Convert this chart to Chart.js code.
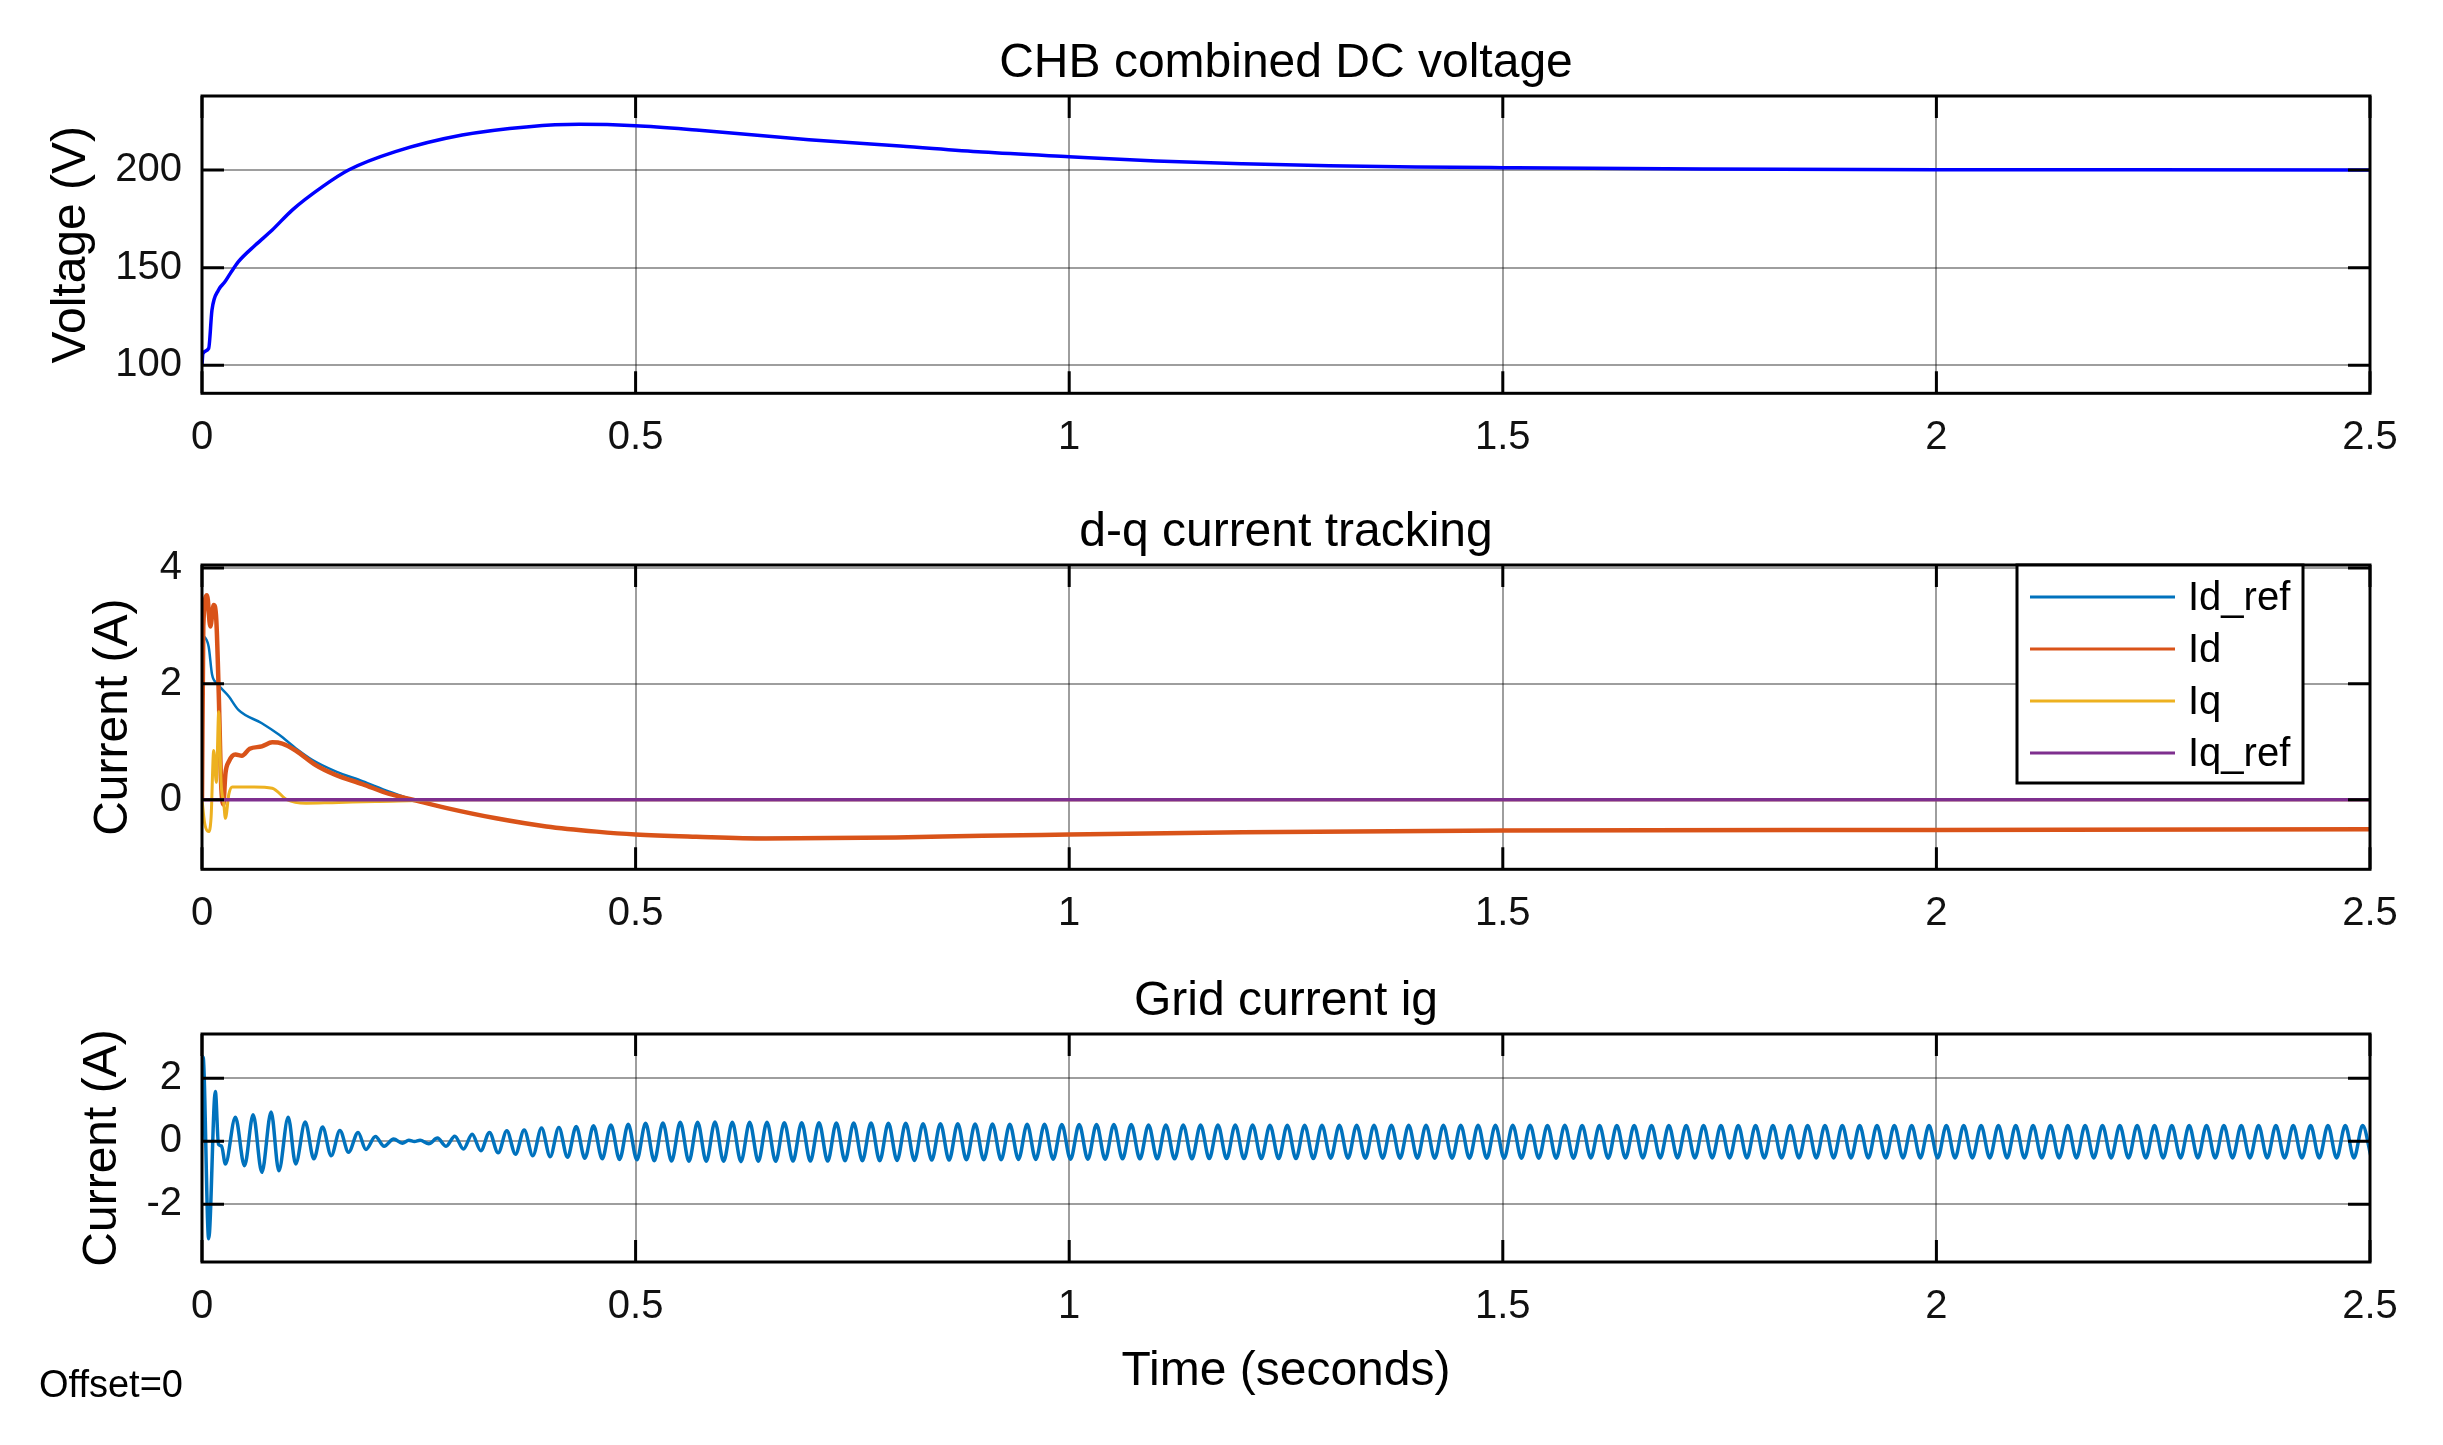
<!DOCTYPE html>
<html>
<head>
<meta charset="utf-8">
<script src="https://cdn.jsdelivr.net/npm/chart.js@4.4.1/dist/chart.umd.min.js"></script>
<style>
  html, body { margin: 0; padding: 0; background: #fff; width: 2443px; height: 1445px; overflow: hidden; }
  canvas { position: absolute; left: 0; }
</style>
</head>
<body>
<canvas id="c1" width="2443" height="469" style="top:0px"></canvas>
<canvas id="c2" width="2443" height="469" style="top:469px"></canvas>
<canvas id="c3" width="2443" height="507" style="top:938px"></canvas>
<script>
// Eje de tiempo común
const xTicks = [0, 0.5, 1, 1.5, 2, 2.5];
const xTickLabels = ['0', '0.5', '1', '1.5', '2', '2.5'];

// Subplot 1: tensión DC combinada
const vTime = [0, 0.001, 0.0077, 0.0115, 0.019, 0.026, 0.0327, 0.042, 0.0616, 0.081, 0.104, 0.139, 0.169, 0.223, 0.3, 0.377, 0.435, 0.5, 0.57, 0.7, 0.805, 0.9, 1.0, 1.1, 1.2, 1.3, 1.4, 1.5, 1.73, 2.0, 2.5];
const vDc = [100, 106, 108.7, 128.3, 138.6, 142.5, 147.1, 153.1, 161.6, 169.3, 179.5, 191.5, 200, 209.4, 217.9, 222.2, 223.4, 222.7, 220.5, 215.5, 212.3, 209.2, 206.8, 204.6, 203.2, 202.2, 201.6, 201.2, 200.5, 200.2, 200];
const vTicks = [100, 150, 200];

// Subplot 2: seguimiento de corrientes d-q
const idRefTime = [0, 0.0077, 0.0116, 0.0173, 0.031, 0.042, 0.069, 0.089, 0.108, 0.127, 0.154, 0.185, 0.216, 0.243, 0.281, 0.339, 0.397, 0.455, 0.5, 0.57, 0.65, 0.8, 0.9, 1.0, 1.2, 1.5, 2.0, 2.5];
const idRef = [2.86, 2.64, 2.16, 2.01, 1.78, 1.55, 1.32, 1.12, 0.89, 0.69, 0.49, 0.32, 0.14, 0.0, -0.14, -0.32, -0.46, -0.55, -0.60, -0.64, -0.66, -0.65, -0.62, -0.60, -0.56, -0.53, -0.52, -0.51];
const idTime = [0, 0.0015, 0.0058, 0.0096, 0.0135, 0.0165, 0.0193, 0.022, 0.0245, 0.027, 0.031, 0.0385, 0.046, 0.055, 0.069, 0.081, 0.0925, 0.108, 0.131, 0.154, 0.185, 0.216, 0.243, 0.281, 0.339, 0.397, 0.455, 0.5, 0.57, 0.65, 0.8, 0.9, 1.0, 1.2, 1.5, 2.0, 2.5];
const id = [0, 3.0, 3.53, 2.99, 3.36, 3.1, 1.84, 0.3, -0.08, 0.45, 0.66, 0.78, 0.76, 0.88, 0.92, 0.99, 0.97, 0.85, 0.6, 0.43, 0.27, 0.1, 0.0, -0.14, -0.32, -0.46, -0.55, -0.60, -0.64, -0.67, -0.65, -0.62, -0.60, -0.56, -0.53, -0.52, -0.51];
const iqTime = [0, 0.003, 0.0077, 0.0105, 0.0135, 0.0165, 0.0193, 0.022, 0.025, 0.027, 0.031, 0.035, 0.06, 0.081, 0.098, 0.12, 0.15, 0.2, 0.3, 2.5];
const iq = [0, -0.4, -0.55, -0.3, 0.85, 0.3, 1.52, 0.3, -0.05, -0.32, 0.1, 0.22, 0.22, 0.2, 0.0, -0.06, -0.05, -0.03, 0, 0];
const iqRefTime = [0, 2.5];
const iqRef = [0, 0];
const dqTicks = [0, 2, 4];

// Subplot 3: corriente de red ig (transitorio + extremos de cada semiciclo)
const igTransTime = [0, 0.0012, 0.0077, 0.0154, 0.019, 0.0225, 0.027, 0.0385, 0.049, 0.059, 0.069, 0.0797, 0.0886, 0.0994, 0.108, 0.119, 0.129, 0.139, 0.149, 0.159, 0.169, 0.18, 0.189, 0.2, 0.21, 0.221, 0.231, 0.2385, 0.245];
const igTrans = [0, 2.68, -3.1, 1.58, -0.1, -0.15, -0.72, 0.76, -0.78, 0.84, -0.99, 0.93, -0.94, 0.76, -0.72, 0.61, -0.56, 0.45, -0.46, 0.34, -0.35, 0.28, -0.26, 0.15, -0.16, 0.07, -0.06, 0.03, -0.01];
const igPeakStart = 0.2515;   // primer extremo tras el cambio de fase
const igHalfPeriod = 0.01;    // 50 Hz
const igPeaks = [
  0.03, -0.08, 0.10, -0.16, 0.16, -0.25, 0.22, -0.30, 0.28, -0.37,
  0.33, -0.41, 0.36, -0.46, 0.42, -0.49, 0.44, -0.51, 0.47, -0.54,
  0.49, -0.56, 0.52, -0.58, 0.54, -0.59, 0.57, -0.62, 0.58, -0.63,
  0.60, -0.64, 0.60, -0.64, 0.61, -0.64, 0.60, -0.65, 0.60, -0.64,
  0.60, -0.64, 0.59, -0.63, 0.59, -0.63, 0.59, -0.63, 0.58, -0.62,
  0.58, -0.62, 0.58, -0.62, 0.57, -0.61, 0.57, -0.61, 0.56, -0.60,
  0.56, -0.60, 0.56, -0.59, 0.55, -0.59, 0.55, -0.59, 0.54, -0.58,
  0.54, -0.58, 0.54, -0.57, 0.53, -0.57, 0.53, -0.57, 0.53, -0.57,
  0.53, -0.56, 0.53, -0.56, 0.52, -0.56, 0.52, -0.56, 0.52, -0.56,
  0.52, -0.55, 0.52, -0.55, 0.52, -0.55, 0.52, -0.55, 0.51, -0.55,
  0.51, -0.55, 0.51, -0.55, 0.51, -0.54, 0.51, -0.54, 0.51, -0.54,
  0.51, -0.54, 0.51, -0.54, 0.51, -0.54, 0.51, -0.54, 0.51, -0.54,
  0.51, -0.54, 0.51, -0.54, 0.51, -0.54, 0.51, -0.54, 0.51, -0.54,
  0.50, -0.54, 0.51, -0.54, 0.50, -0.53, 0.50, -0.54, 0.50, -0.53,
  0.50, -0.53, 0.50, -0.53, 0.50, -0.53, 0.50, -0.53, 0.50, -0.53,
  0.50, -0.53, 0.50, -0.53, 0.50, -0.53, 0.50, -0.53, 0.50, -0.53,
  0.50, -0.53, 0.50, -0.53, 0.50, -0.53, 0.50, -0.53, 0.50, -0.53,
  0.50, -0.53, 0.50, -0.53, 0.50, -0.53, 0.50, -0.53, 0.50, -0.53,
  0.50, -0.53, 0.50, -0.53, 0.50, -0.53, 0.50, -0.53, 0.50, -0.53,
  0.50, -0.53, 0.50, -0.53, 0.50, -0.53, 0.50, -0.53, 0.50, -0.53,
  0.50, -0.53, 0.50, -0.53, 0.50, -0.53, 0.50, -0.53, 0.50, -0.53,
  0.50, -0.53, 0.50, -0.53, 0.50, -0.53, 0.50, -0.53, 0.50, -0.53,
  0.50, -0.53, 0.50, -0.53, 0.50, -0.53
];
const igTicks = [-2, 0, 2];

const FONT = '"Liberation Sans", Arial, Helvetica, sans-serif';

// Convierte dos listas en puntos {x, y}
function puntos(ts, vs) {
  return ts.map((t, i) => ({ x: t, y: vs[i] }));
}

const igPuntos = puntos(igTransTime, igTrans).concat(
  igPeaks.map((v, k) => ({ x: igPeakStart + k * igHalfPeriod, y: v }))
);

// Marco estilo MATLAB: título centrado en el área, caja, marcas interiores, leyenda y "Offset"
const marcoMatlab = {
  id: 'marcoMatlab',
  afterDatasetsDraw(chart, args, opts) {
    const { ctx, chartArea: a, scales } = chart;
    ctx.save();
    ctx.strokeStyle = '#000';
    ctx.lineWidth = 3;
    ctx.beginPath();
    scales.x.ticks.forEach(t => {
      const px = scales.x.getPixelForValue(t.value);
      ctx.moveTo(px, a.bottom); ctx.lineTo(px, a.bottom - 22);
      ctx.moveTo(px, a.top); ctx.lineTo(px, a.top + 22);
    });
    scales.y.ticks.forEach(t => {
      const py = scales.y.getPixelForValue(t.value);
      ctx.moveTo(a.left, py); ctx.lineTo(a.left + 22, py);
      ctx.moveTo(a.right, py); ctx.lineTo(a.right - 22, py);
    });
    ctx.stroke();
    ctx.strokeRect(a.left, a.top, a.right - a.left, a.bottom - a.top);

    // título del subgráfico
    if (opts.titulo) {
      ctx.font = '48px ' + FONT;
      ctx.fillStyle = '#000';
      ctx.textAlign = 'center';
      ctx.textBaseline = 'alphabetic';
      ctx.fillText(opts.titulo, (a.left + a.right) / 2, a.top - 19);
    }

    if (opts.leyenda) {
      const bw = 286, bh = 218;
      const bx = a.right - 67 - bw, by = a.top;
      ctx.fillStyle = '#fff';
      ctx.fillRect(bx, by, bw, bh);
      ctx.lineWidth = 3;
      ctx.strokeStyle = '#000';
      ctx.strokeRect(bx, by, bw, bh);
      ctx.font = '40px ' + FONT;
      ctx.textBaseline = 'middle';
      ctx.textAlign = 'left';
      chart.data.datasets.forEach((ds, i) => {
        const cy = by + 32 + i * 52;
        ctx.strokeStyle = ds.borderColor;
        ctx.lineWidth = 3;
        ctx.beginPath();
        ctx.moveTo(bx + 13, cy); ctx.lineTo(bx + 158, cy);
        ctx.stroke();
        ctx.fillStyle = '#000';
        ctx.fillText(ds.label, bx + 171, cy + 2);
      });
    }
    if (opts.nota) {
      ctx.font = '38px ' + FONT;
      ctx.fillStyle = '#000';
      ctx.textBaseline = 'alphabetic';
      ctx.textAlign = 'left';
      ctx.fillText(opts.nota, 39, a.bottom + 135);
    }
    ctx.restore();
  }
};

// Opciones comunes de cada subgráfico
function opciones(cfg) {
  return {
    responsive: false,
    devicePixelRatio: 1,
    animation: false,
    events: [],
    layout: { padding: { left: 0, right: 73, top: 96, bottom: 0 } },
    plugins: {
      legend: { display: false },
      tooltip: { enabled: false },
      title: { display: false },
      marcoMatlab: { titulo: cfg.titulo, leyenda: !!cfg.leyenda, nota: cfg.nota || '' }
    },
    scales: {
      x: {
        type: 'linear',
        min: 0,
        max: 2.5,
        afterBuildTicks: s => { s.ticks = xTicks.map(v => ({ value: v })); },
        afterFit: s => { s.height = cfg.altoX; },
        ticks: {
          callback: v => xTickLabels[xTicks.indexOf(v)],
          color: '#111',
          font: { family: FONT, size: 40, lineHeight: 1.2 },
          padding: 21,
          maxRotation: 0,
          autoSkip: false
        },
        grid: { color: 'rgba(0,0,0,0.38)', lineWidth: 2, drawTicks: false },
        border: { display: false },
        title: cfg.tituloX ? {
          display: true,
          text: cfg.tituloX,
          color: '#000',
          font: { family: FONT, size: 48, lineHeight: 1.2 },
          padding: { top: 0, bottom: 44 }
        } : { display: false }
      },
      y: {
        type: 'linear',
        min: cfg.yMin,
        max: cfg.yMax,
        afterBuildTicks: s => { s.ticks = cfg.yTicks.map(v => ({ value: v })); },
        afterFit: s => { s.width = 202; },
        ticks: {
          callback: v => String(v),
          color: '#111',
          font: { family: FONT, size: 40, lineHeight: 1.2 },
          padding: 20
        },
        grid: { color: 'rgba(0,0,0,0.38)', lineWidth: 2, drawTicks: false },
        border: { display: false },
        title: {
          display: true,
          text: cfg.tituloY,
          color: '#000',
          font: { family: FONT, size: 48, lineHeight: 1.2 },
          padding: { top: cfg.padTituloY, bottom: 0 }
        }
      }
    }
  };
}

function serie(label, color, ancho, pts, orden) {
  return {
    label: label,
    data: pts,
    borderColor: color,
    backgroundColor: color,
    borderWidth: ancho,
    pointRadius: 0,
    fill: false,
    cubicInterpolationMode: 'monotone',
    order: orden
  };
}

// Subplot 1
new Chart(document.getElementById('c1'), {
  type: 'line',
  data: { datasets: [serie('Vdc', '#0000ff', 3.5, puntos(vTime, vDc), 1)] },
  options: opciones({
    titulo: 'CHB combined DC voltage', tituloY: 'Voltage (V)', padTituloY: 43,
    yMin: 85.7, yMax: 237.9, yTicks: vTicks, altoX: 75.7
  }),
  plugins: [marcoMatlab]
});

// Subplot 2
new Chart(document.getElementById('c2'), {
  type: 'line',
  data: {
    datasets: [
      serie('Id_ref', '#0072BD', 2.5, puntos(idRefTime, idRef), 4),
      serie('Id', '#D95319', 4.5, puntos(idTime, id), 3),
      serie('Iq', '#EDB120', 3, puntos(iqTime, iq), 2),
      serie('Iq_ref', '#7E2F8E', 3.5, puntos(iqRefTime, iqRef), 1)
    ]
  },
  options: opciones({
    titulo: 'd-q current tracking', tituloY: 'Current (A)', padTituloY: 85,
    yMin: -1.2, yMax: 4.05, yTicks: dqTicks, altoX: 68.7, leyenda: true
  }),
  plugins: [marcoMatlab]
});

// Subplot 3
new Chart(document.getElementById('c3'), {
  type: 'line',
  data: { datasets: [serie('ig', '#0072BD', 3.5, igPuntos, 1)] },
  options: opciones({
    titulo: 'Grid current ig', tituloY: 'Current (A)', padTituloY: 74,
    yMin: -3.84, yMax: 3.41, yTicks: igTicks, altoX: 183,
    tituloX: 'Time (seconds)', nota: 'Offset=0'
  }),
  plugins: [marcoMatlab]
});
</script>
</body>
</html>
